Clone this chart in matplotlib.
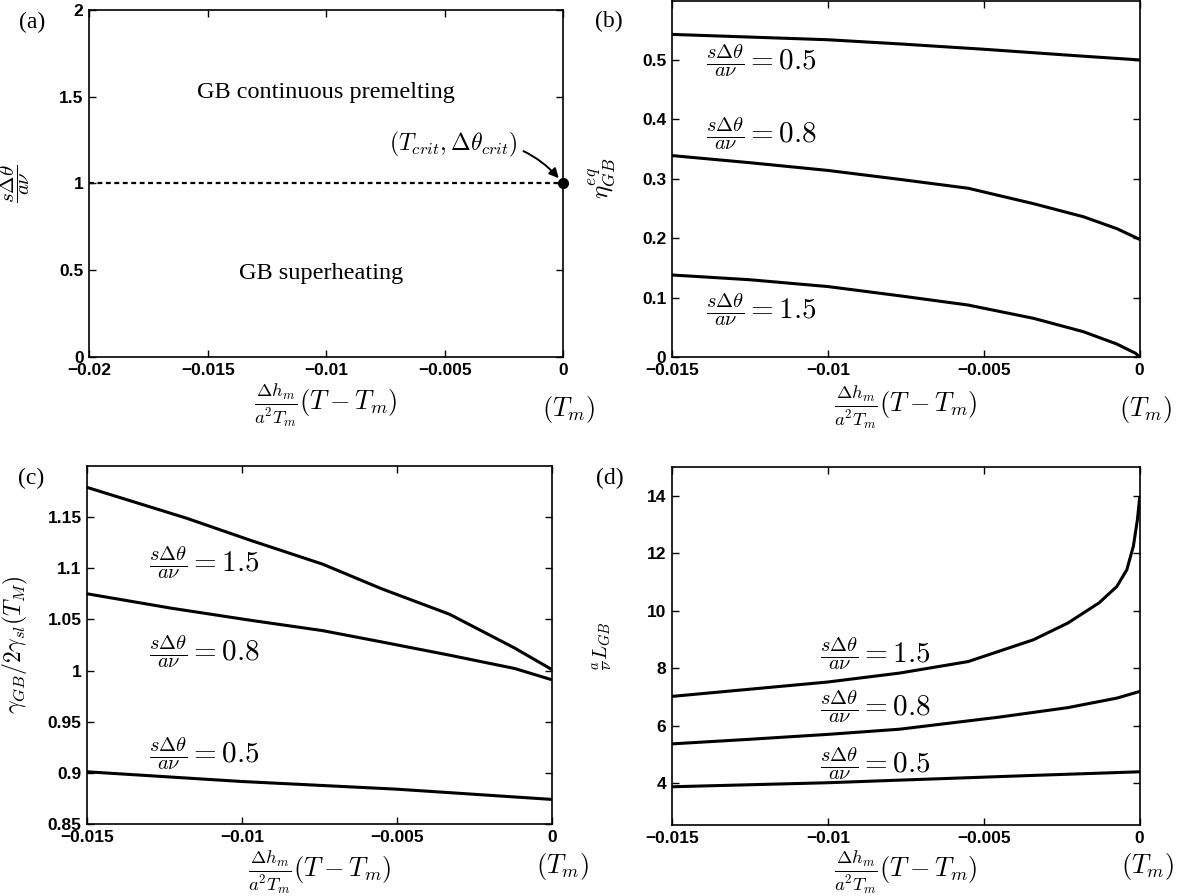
import matplotlib.pyplot as plt

plt.rcParams['mathtext.fontset'] = 'cm'
plt.rcParams['font.family'] = ['Liberation Sans', 'DejaVu Sans']

# (a) phase diagram: boundary between the two regimes
phase_x = [-0.02, 0.0]
phase_y = [1.0, 1.0]
crit_x = [0.0]
crit_y = [1.0]

# (b) equilibrium order parameter eta_GB^eq
eta05_x = [-0.015, -0.01, -0.0077, -0.005, -0.002, 0.0]
eta05_y = [0.543, 0.534, 0.527, 0.518, 0.507, 0.500]
eta08_x = [-0.015, -0.0125, -0.01, -0.0077, -0.0055, -0.0034, -0.0018, -0.00073, 0.0]
eta08_y = [0.339, 0.327, 0.314, 0.299, 0.284, 0.258, 0.236, 0.216, 0.198]
eta15_x = [-0.015, -0.0125, -0.01, -0.0077, -0.0055, -0.0034, -0.0018, -0.00073, -0.00013, 0.0]
eta15_y = [0.138, 0.130, 0.1185, 0.103, 0.0874, 0.065, 0.0425, 0.0218, 0.0062, 0.0]

# (c) reduced grain boundary energy
gam15_x = [-0.015, -0.0118, -0.0097, -0.0074, -0.0055, -0.0033, -0.0012, 0.0]
gam15_y = [1.179, 1.149, 1.127, 1.104, 1.080, 1.055, 1.022, 1.001]
gam08_x = [-0.015, -0.0123, -0.0097, -0.0074, -0.0055, -0.0033, -0.0012, 0.0]
gam08_y = [1.075, 1.061, 1.049, 1.039, 1.028, 1.015, 1.002, 0.991]
gam05_x = [-0.015, -0.01, -0.005, 0.0]
gam05_y = [0.901, 0.8915, 0.884, 0.874]

# (d) reduced grain boundary width
wid15_x = [-0.015, -0.0125, -0.01, -0.0077, -0.0055, -0.0034, -0.0023, -0.0013,
           -0.00073, -0.00041, -0.0002, -0.00007, 0.0]
wid15_y = [7.02, 7.27, 7.52, 7.83, 8.23, 8.99, 9.57, 10.27, 10.84, 11.42, 12.24, 13.16, 13.9]
wid08_x = [-0.015, -0.0125, -0.01, -0.0077, -0.0045, -0.0023, -0.00073, 0.0]
wid08_y = [5.37, 5.53, 5.70, 5.88, 6.30, 6.63, 6.96, 7.19]
wid05_x = [-0.015, -0.01, -0.0077, -0.0038, 0.0]
wid05_y = [3.88, 4.02, 4.11, 4.26, 4.40]

xt_a = [-0.02, -0.015, -0.01, -0.005, 0.0]
xl_a = ['\u22120.02', '\u22120.015', '\u22120.01', '\u22120.005', '0']
xt = [-0.015, -0.01, -0.005, 0.0]
xl = ['\u22120.015', '\u22120.01', '\u22120.005', '0']
yt_a = [0, 0.5, 1, 1.5, 2]
yl_a = ['0', '0.5', '1', '1.5', '2']
yt_b = [0, 0.1, 0.2, 0.3, 0.4, 0.5]
yl_b = ['0', '0.1', '0.2', '0.3', '0.4', '0.5']
yt_c = [0.85, 0.9, 0.95, 1.0, 1.05, 1.1, 1.15]
yl_c = ['0.85', '0.9', '0.95', '1', '1.05', '1.1', '1.15']
yt_d = [4, 6, 8, 10, 12, 14]
yl_d = ['4', '6', '8', '10', '12', '14']

XLABEL = r'$\frac{\Delta h_m}{a^2T_m}(T-T_m)$'
TM = r'$(T_m)$'
LW = 2.2
FS_FRAC = 21


def frac_label(v):
    return r'$\frac{s\Delta\theta}{a\nu} = %s$' % v


def style(ax, xticks, xlabels, yticks, ylabels, ylim, ylabel, ylab_fs, ylab_x,
          xlab_y, tm_x, tm_y):
    ax.set_xlim(xticks[0], xticks[-1])
    ax.set_ylim(*ylim)
    ax.set_xticks(xticks, xlabels)
    ax.set_yticks(yticks, ylabels)
    ax.tick_params(direction='in', top=True, right=True, length=5, width=1,
                   labelsize=12.5, pad=4)
    for lab in ax.get_xticklabels() + ax.get_yticklabels():
        lab.set_fontweight('bold')
    for sp in ax.spines.values():
        sp.set_linewidth(1.2)
    ax.set_ylabel(ylabel, fontsize=ylab_fs)
    ax.yaxis.set_label_coords(ylab_x, 0.5)
    ax.text(0.5, xlab_y, XLABEL, transform=ax.transAxes, ha='center', va='center', fontsize=19)
    ax.text(tm_x, tm_y, TM, transform=ax.transAxes, ha='center', va='center', fontsize=19)


fig = plt.figure(figsize=(11.84, 8.96), dpi=100)
ax_a = fig.add_axes([0.0753, 0.6016, 0.4004, 0.3873])
ax_b = fig.add_axes([0.5676, 0.6016, 0.3949, 0.3978])
ax_c = fig.add_axes([0.0736, 0.0804, 0.3924, 0.3996])
ax_d = fig.add_axes([0.5676, 0.0792, 0.3949, 0.3999])

# (a)
ax_a.plot(phase_x, phase_y, color='k', lw=1.6, ls=(0, (2.2, 1.6)))
ax_a.plot(crit_x, crit_y, 'o', color='k', ms=7, clip_on=False, zorder=5)
ax_a.text(-0.0100, 1.525, 'GB continuous premelting', family='Liberation Serif',
          fontsize=17.5, ha='center', va='center')
ax_a.text(-0.0102, 0.48, 'GB superheating', family='Liberation Serif',
          fontsize=17.5, ha='center', va='center')
ax_a.annotate(r'$(T_{crit},\Delta\theta_{crit})$', xy=(crit_x[0], crit_y[0]),
              xytext=(-0.0019, 1.227), ha='right', va='center', fontsize=17,
              arrowprops=dict(arrowstyle='-|>', color='k', lw=1.4, mutation_scale=14,
                              shrinkA=2, shrinkB=5, connectionstyle='arc3,rad=-0.3'))
style(ax_a, xt_a, xl_a, yt_a, yl_a, (0, 2), r'$\dfrac{s\Delta\theta}{a\nu}$', 15,
      -0.121, -0.138, 1.012, -0.150)

# (b)
ax_b.plot(eta05_x, eta05_y, color='k', lw=LW)
ax_b.plot(eta08_x, eta08_y, color='k', lw=LW)
ax_b.plot(eta15_x, eta15_y, color='k', lw=LW)
ax_b.text(-0.0139, 0.499, frac_label('0.5'), fontsize=FS_FRAC, ha='left', va='center')
ax_b.text(-0.0139, 0.376, frac_label('0.8'), fontsize=FS_FRAC, ha='left', va='center')
ax_b.text(-0.0139, 0.079, frac_label('1.5'), fontsize=FS_FRAC, ha='left', va='center')
style(ax_b, xt, xl, yt_b, yl_b, (0, 0.6), r'$\eta^{eq}_{GB}$', 18,
      -0.117, -0.140, 1.012, -0.146)

# (c)
ax_c.plot(gam15_x, gam15_y, color='k', lw=LW)
ax_c.plot(gam08_x, gam08_y, color='k', lw=LW)
ax_c.plot(gam05_x, gam05_y, color='k', lw=LW)
ax_c.text(-0.0130, 1.106, frac_label('1.5'), fontsize=FS_FRAC, ha='left', va='center')
ax_c.text(-0.0130, 1.019, frac_label('0.8'), fontsize=FS_FRAC, ha='left', va='center')
ax_c.text(-0.0130, 0.919, frac_label('0.5'), fontsize=FS_FRAC, ha='left', va='center')
style(ax_c, xt, xl, yt_c, yl_c, (0.85, 1.2), r'$\gamma_{GB}/2\gamma_{sl}(T_M)$', 17,
      -0.123, -0.134, 1.023, -0.120)

# (d)
ax_d.plot(wid15_x, wid15_y, color='k', lw=LW)
ax_d.plot(wid08_x, wid08_y, color='k', lw=LW)
ax_d.plot(wid05_x, wid05_y, color='k', lw=LW)
ax_d.text(-0.01026, 8.52, frac_label('1.5'), fontsize=FS_FRAC, ha='left', va='center')
ax_d.text(-0.01026, 6.67, frac_label('0.8'), fontsize=FS_FRAC, ha='left', va='center')
ax_d.text(-0.01026, 4.70, frac_label('0.5'), fontsize=FS_FRAC, ha='left', va='center')
style(ax_d, xt, xl, yt_d, yl_d, (2.55, 15), r'$\frac{a}{\nu}L_{GB}$', 15,
      -0.123, -0.131, 1.018, -0.117)

# panel letters
for x, y, s in [(32, 22, '(a)'), (609, 21, '(b)'), (31, 478, '(c)'), (610, 478, '(d)')]:
    fig.text(x / 1184, 1 - y / 896, s, family='Liberation Serif', fontsize=17,
             ha='center', va='center')

fig.savefig('out.png', dpi=100)
